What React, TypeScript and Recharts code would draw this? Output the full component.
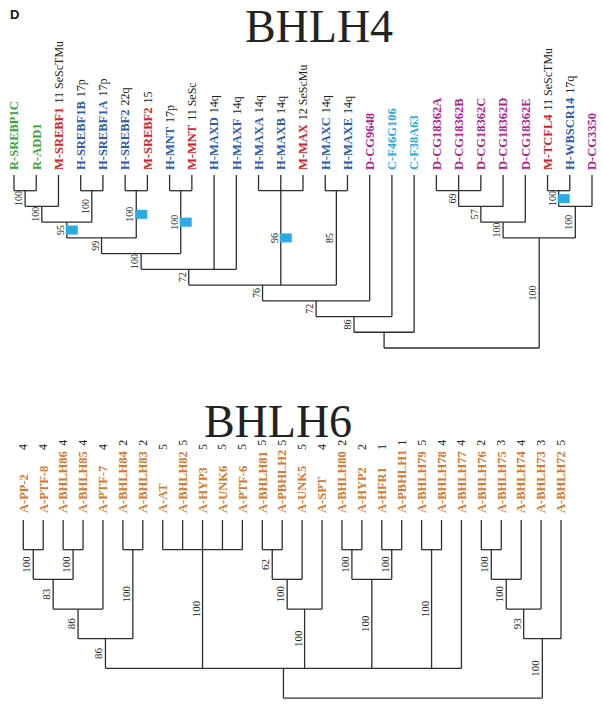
import React from 'react';
import { ScatterChart, Scatter, XAxis, YAxis, ReferenceLine } from 'recharts';

type TreeNode = number | { c: TreeNode[]; s?: number; box?: boolean };

// ---- BHLH4 leaves ----
const topLeaves = [
  'R-SREBP1C', 'R-ADD1', 'M-SREBF1', 'H-SREBF1B', 'H-SREBF1A', 'H-SREBF2', 'M-SREBF2',
  'H-MNT', 'M-MNT', 'H-MAXD', 'H-MAXF', 'H-MAXA', 'H-MAXB', 'M-MAX', 'H-MAXC', 'H-MAXE',
  'D-CG9648', 'C-F46G106', 'C-F38A63', 'D-CG18362A', 'D-CG18362B', 'D-CG18362C',
  'D-CG18362D', 'D-CG18362E', 'M-TCFL4', 'H-WBSCR14', 'D-CG3350',
];
const topSuffixes = [
  '', '', '11 SeScTMu', '17p', '17p', '22q', '15',
  '17p', '11 SeSc', '14q', '14q', '14q', '14q', '12 SeScMu', '14q', '14q',
  '', '', '', '', '', '',
  '', '', '11 SeScTMu', '17q', '',
];

// ---- BHLH4 topology (leaf indices) with bootstrap support ----
const t1: TreeNode = { c: [0, 1], s: 100 };
const t2: TreeNode = { c: [t1, 2], s: 100 };
const t3: TreeNode = { c: [3, 4], s: 100 };
const t4: TreeNode = { c: [t2, t3], s: 95, box: true };
const t5: TreeNode = { c: [5, 6], s: 100, box: true };
const t6: TreeNode = { c: [t4, t5], s: 99 };
const t7: TreeNode = { c: [7, 8], s: 100, box: true };
const t8: TreeNode = { c: [t6, t7], s: 100 };
const t9: TreeNode = { c: [t8, 9, 10], s: 72 };
const t10: TreeNode = { c: [11, 12, 13], s: 96, box: true };
const t11: TreeNode = { c: [14, 15], s: 85 };
const t12: TreeNode = { c: [t9, t10, t11], s: 76 };
const t13: TreeNode = { c: [t12, 16], s: 72 };
const t14: TreeNode = { c: [t13, 17], s: 86 };
const t15: TreeNode = { c: [t14, 18] };
const r1: TreeNode = { c: [19, 20, 21], s: 69 };
const r2: TreeNode = { c: [r1, 22], s: 57 };
const r3: TreeNode = { c: [r2, 23], s: 100 };
const r4: TreeNode = { c: [24, 25], s: 100, box: true };
const r5: TreeNode = { c: [r4, 26], s: 100 };
const r6: TreeNode = { c: [r3, r5], s: 100 };
const topTree: TreeNode = { c: [t15, r6] };

// ---- BHLH6 leaves ----
const bottomLeaves = [
  'A-PP-2', 'A-PTF-8', 'A-BHLH86', 'A-BHLH85', 'A-PTF-7', 'A-BHLH84', 'A-BHLH83',
  'A-AT', 'A-BHLH82', 'A-HYP3', 'A-UNK6', 'A-PTF-6', 'A-BHLH81', 'A-PBHLH2', 'A-UNK5',
  'A-SPT', 'A-BHLH80', 'A-HYP2', 'A-HFR1', 'A-PBHLH1', 'A-BHLH79', 'A-BHLH78', 'A-BHLH77',
  'A-BHLH76', 'A-BHLH75', 'A-BHLH74', 'A-BHLH73', 'A-BHLH72',
];
const bottomCounts = [4, 4, 4, 4, 4, 2, 2, 5, 5, 5, 5, 5, 5, 5, 5, 4, 2, 2, 1, 1, 5, 4, 4, 2, 3, 4, 3, 5];

// ---- BHLH6 topology ----
const b1: TreeNode = { c: [0, 1], s: 100 };
const b2: TreeNode = { c: [2, 3], s: 100 };
const b3: TreeNode = { c: [b1, b2], s: 83 };
const b4: TreeNode = { c: [b3, 4], s: 86 };
const b5: TreeNode = { c: [5, 6], s: 100 };
const b6: TreeNode = { c: [b4, b5], s: 86 };
const b7: TreeNode = { c: [7, 8, 9, 10, 11], s: 100 };
const b8: TreeNode = { c: [12, 13], s: 62 };
const b9: TreeNode = { c: [b8, 14], s: 100 };
const b10: TreeNode = { c: [b9, 15], s: 100 };
const b11: TreeNode = { c: [16, 17], s: 100 };
const b12: TreeNode = { c: [18, 19], s: 100 };
const b13: TreeNode = { c: [b11, b12], s: 100 };
const b14: TreeNode = { c: [20, 21], s: 100 };
const b15: TreeNode = { c: [b6, b7, b10, b13, b14, 22] };
const b16: TreeNode = { c: [23, 24], s: 100 };
const b17: TreeNode = { c: [b16, 25], s: 100 };
const b18: TreeNode = { c: [b17, 26], s: 93 };
const b19: TreeNode = { c: [b18, 27], s: 100 };
const bottomTree: TreeNode = { c: [b15, b19] };

const SERIF = "'Liberation Serif', 'Times New Roman', serif";
const LINE = '#2e2e2e';

const prefixColors: Record<string, string> = {
  R: '#3aa63a',
  M: '#d3242a',
  H: '#2a5cad',
  D: '#b2228f',
  C: '#2aabe2',
};

interface Seg { x1: number; y1: number; x2: number; y2: number }
interface Sup { x: number; y: number; s: number; box: boolean }

// cladogram layout: leaves sit at level -1, a node sits one level below its deepest child
function layoutTree(root: TreeNode) {
  const edges: Seg[] = [];
  const supports: Sup[] = [];
  const walk = (n: TreeNode): { x: number; level: number } => {
    if (typeof n === 'number') return { x: n, level: -1 };
    const kids = n.c.map(walk);
    const xs = kids.map((k) => k.x);
    const lo = Math.min(...xs);
    const hi = Math.max(...xs);
    const level = Math.max(...kids.map((k) => k.level)) + 1;
    edges.push({ x1: lo, y1: level, x2: hi, y2: level });
    kids.forEach((k, i) => {
      edges.push({ x1: k.x, y1: k.level, x2: k.x, y2: level });
      const child = n.c[i];
      if (typeof child !== 'number' && child.s !== undefined) {
        supports.push({ x: k.x, y: (k.level + level) / 2, s: child.s, box: !!child.box });
      }
    });
    return { x: (lo + hi) / 2, level };
  };
  walk(root);
  return { edges, supports };
}

const topLayout = layoutTree(topTree);
const bottomLayout = layoutTree(bottomTree);

const topLabelData = topLeaves.map((name, i) => ({
  x: i,
  y: -1.318,
  name,
  suffix: topSuffixes[i],
  color: prefixColors[name[0]],
}));

const bottomLabelData = bottomLeaves.map((name, i) => ({
  x: i,
  y: -1.236,
  name,
  count: bottomCounts[i],
}));

const TopLeafShape = (props: any) => {
  const { cx, cy, payload } = props;
  const bx = cx + 4.3;
  return (
    <text x={bx} y={cy} transform={`rotate(-90 ${bx} ${cy})`} fontFamily={SERIF} fontSize={12.5}>
      <tspan fontWeight="bold" fill={payload.color}>{payload.name}</tspan>
      {payload.suffix ? (
        <tspan dx={4} fill="#222" fontSize={12}>{payload.suffix}</tspan>
      ) : null}
    </text>
  );
};

const BottomLeafShape = (props: any) => {
  const { cx, cy, payload } = props;
  const bx = cx + 4.3;
  const est = payload.name.length * 7.4;
  const ny = cy - Math.max(66, est + 11);
  const nx = cx + 4;
  return (
    <g>
      <text
        x={bx}
        y={cy}
        transform={`rotate(-90 ${bx} ${cy})`}
        fontFamily={SERIF}
        fontSize={12.5}
        fontWeight="bold"
        fill="#d9782d"
      >
        {payload.name}
      </text>
      <text
        x={nx}
        y={ny}
        transform={`rotate(-90 ${nx} ${ny})`}
        textAnchor="middle"
        fontFamily={SERIF}
        fontSize={12}
        fill="#222"
      >
        {payload.count}
      </text>
    </g>
  );
};

const makeSupportShape = (fontSize: number) => (props: any) => {
  const { cx, cy, payload } = props;
  const bx = cx - 3;
  return (
    <g>
      {payload.box ? <rect x={cx - 1} y={cy - 4.5} width={12} height={9} fill="#2aabe2" /> : null}
      <text
        x={bx}
        y={cy}
        transform={`rotate(-90 ${bx} ${cy})`}
        textAnchor="middle"
        fontFamily={SERIF}
        fontSize={fontSize}
        fill="#222"
      >
        {payload.s}
      </text>
    </g>
  );
};

const TopSupport = makeSupportShape(10);
const BottomSupport = makeSupportShape(11);

const App: React.FC = () => {
  return (
    <div style={{ position: 'absolute', left: 0, top: 0, width: 602, height: 707, background: '#fff' }}>
      <svg width={602} height={707} style={{ position: 'absolute', left: 0, top: 0 }}>
        <text x={10} y={19} fontFamily="'Liberation Sans', Arial, sans-serif" fontWeight="bold" fontSize={13} fill="#111">
          D
        </text>
        <text x={319} y={42} textAnchor="middle" fontFamily={SERIF} fontSize={46} fill="#222">
          BHLH4
        </text>
        <text x={278} y={437} textAnchor="middle" fontFamily={SERIF} fontSize={46} fill="#222">
          BHLH6
        </text>
      </svg>

      <div style={{ position: 'absolute', left: 0, top: 0 }}>
        <ScatterChart width={602} height={360} margin={{ top: 0, right: 0, bottom: 0, left: 0 }}>
          <XAxis type="number" dataKey="x" domain={[-0.63, 26.45]} allowDataOverflow hide />
          <YAxis type="number" dataKey="y" domain={[-12.127, 10.764]} allowDataOverflow reversed hide />
          {topLayout.edges.map((e, i) => (
            <ReferenceLine
              key={`te${i}`}
              segment={[{ x: e.x1, y: e.y1 }, { x: e.x2, y: e.y2 }]}
              stroke={LINE}
              strokeWidth={1.3}
              ifOverflow="visible"
            />
          ))}
          <Scatter data={topLabelData} shape={TopLeafShape} isAnimationActive={false} />
          <Scatter data={topLayout.supports} shape={TopSupport} isAnimationActive={false} />
        </ScatterChart>
      </div>

      <div style={{ position: 'absolute', left: 0, top: 380 }}>
        <ScatterChart width={602} height={327} margin={{ top: 0, right: 0, bottom: 0, left: 0 }}>
          <XAxis type="number" dataKey="x" domain={[-1.17, 29.058]} allowDataOverflow hide />
          <YAxis type="number" dataKey="y" domain={[-5.719, 5.302]} allowDataOverflow reversed hide />
          {bottomLayout.edges.map((e, i) => (
            <ReferenceLine
              key={`be${i}`}
              segment={[{ x: e.x1, y: e.y1 }, { x: e.x2, y: e.y2 }]}
              stroke={LINE}
              strokeWidth={1.3}
              ifOverflow="visible"
            />
          ))}
          <Scatter data={bottomLabelData} shape={BottomLeafShape} isAnimationActive={false} />
          <Scatter data={bottomLayout.supports} shape={BottomSupport} isAnimationActive={false} />
        </ScatterChart>
      </div>
    </div>
  );
};

export default App;
